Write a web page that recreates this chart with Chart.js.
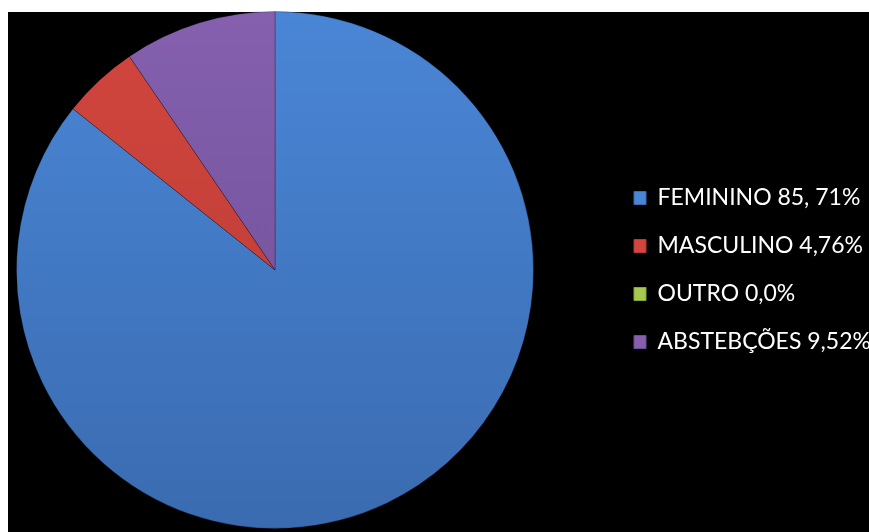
<!DOCTYPE html>
<html>
<head>
<meta charset="utf-8">
<script src="https://cdn.jsdelivr.net/npm/chart.js@4/dist/chart.umd.min.js"></script>
<style>
  html, body { margin: 0; padding: 0; background: #ffffff; }
  #wrap { width: 869px; height: 532px; position: relative; }
</style>
</head>
<body>
<div id="wrap"><canvas id="c" width="869" height="532"></canvas></div>
<script>
const categories = ['FEMININO 85, 71%', 'MASCULINO 4,76%', 'OUTRO 0,0%', 'ABSTEBÇÕES 9,52%'];
const values = [85.71, 4.76, 0.0, 9.52];
const colors = ['#4A86D6', '#D2463E', '#A3C94F', '#8460AE'];
const colorsDark = ['#3A6BB0', '#B53A33', '#86A640', '#6C4C93'];

const bgPlugin = {
  id: 'bg',
  beforeDraw(chart) {
    const ctx = chart.ctx;
    ctx.save();
    ctx.fillStyle = '#ffffff';
    ctx.fillRect(0, 0, chart.width, chart.height);
    ctx.fillStyle = '#000000';
    ctx.fillRect(8, 12, chart.width - 8, chart.height - 12);
    ctx.restore();
  }
};

function sliceColor(c) {
  const i = c.dataIndex;
  const chart = c.chart;
  const area = chart.chartArea;
  if (!area || c.type !== 'data') return colors[i];
  const g = chart.ctx.createLinearGradient(0, area.top, 0, area.bottom);
  g.addColorStop(0, colors[i]);
  g.addColorStop(1, colorsDark[i]);
  return g;
}

new Chart(document.getElementById('c'), {
  type: 'pie',
  data: {
    labels: categories,
    datasets: [{
      data: values,
      backgroundColor: sliceColor,
      borderColor: 'rgba(0,0,0,0.25)',
      borderWidth: 1
    }]
  },
  options: {
    responsive: false,
    animation: false,
    layout: { padding: { left: 16, top: 11, bottom: 3, right: 0 } },
    plugins: {
      tooltip: { enabled: false },
      title: {
        display: true,
        text: ' ',
        position: 'right',
        fullSize: false,
        weight: 0,
        font: { size: 10, lineHeight: 1.2 },
        padding: { top: 0, bottom: 63 }
      },
      legend: {
        position: 'right',
        maxWidth: 260,
        labels: {
          color: '#ffffff',
          font: { family: 'Lato', size: 23 },
          boxWidth: 12,
          boxHeight: 13,
          padding: 25,
          generateLabels(chart) {
            return categories.map((t, i) => ({
              text: t,
              fillStyle: colors[i],
              strokeStyle: colorsDark[i],
              lineWidth: 1,
              fontColor: '#ffffff',
              hidden: false,
              index: i
            }));
          }
        }
      }
    }
  },
  plugins: [bgPlugin]
});
</script>
</body>
</html>
